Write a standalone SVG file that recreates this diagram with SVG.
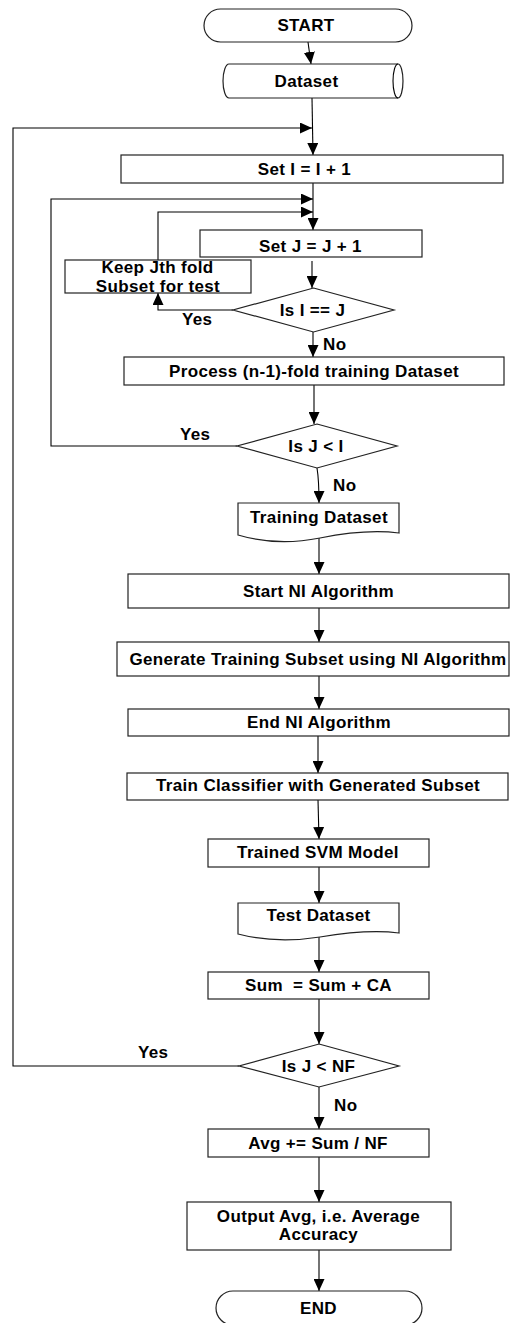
<svg xmlns="http://www.w3.org/2000/svg" width="512" height="1323" viewBox="0 0 512 1323">
  <defs>
    <marker id="arrow" markerUnits="userSpaceOnUse" markerWidth="12" markerHeight="11" refX="12" refY="5.5" orient="auto">
      <path d="M0,0 L12,5.5 L0,11 Z" fill="#000"/>
    </marker>
    <style>
      .shape { fill: #fff; stroke: #222; stroke-width: 1.2; }
      .conn { fill: none; stroke: #000; stroke-width: 1.1; }
      .arr { marker-end: url(#arrow); }
      text { font-family: "Liberation Sans", Arial, sans-serif; font-weight: bold; font-size: 17px; letter-spacing: 0.35px; fill: #000; text-anchor: middle; }
      .lbl { text-anchor: start; }
    </style>
  </defs>
  <rect width="512" height="1323" fill="#fff"/>

  <!-- connectors -->
  <g id="connectors">
    <path class="conn arr" d="M308,42 L311,64"/>
    <path class="conn arr" d="M312,98 L313,155"/>
    <!-- outer loop: Is J < NF (Yes) back to Set I -->
    <path class="conn arr" d="M239,1066 H13 V128 H312"/>
    <!-- middle loop: Is J < I (Yes) back to Set J -->
    <path class="conn arr" d="M237,446 H51 V199 H313"/>
    <!-- inner loop: Keep Jth fold back to Set J -->
    <path class="conn arr" d="M158,260 V212 H313"/>
    <path class="conn arr" d="M313,183 V230"/>
    <path class="conn arr" d="M312,261 V288"/>
    <path class="conn arr" d="M233,310 H158 V293"/>
    <path class="conn arr" d="M313,332 V357"/>
    <path class="conn arr" d="M314,385 V424"/>
    <path class="conn arr" d="M317,468 Q319,480 319,503"/>
    <path class="conn arr" d="M319,537 V574"/>
    <path class="conn arr" d="M319,608 V642"/>
    <path class="conn arr" d="M319,676 V709"/>
    <path class="conn arr" d="M318,736 V773"/>
    <path class="conn arr" d="M318,800 L319,839"/>
    <path class="conn arr" d="M319,867 V903"/>
    <path class="conn arr" d="M319,936 V972"/>
    <path class="conn arr" d="M319,999 V1044"/>
    <path class="conn arr" d="M319,1087 V1129"/>
    <path class="conn arr" d="M319,1157 V1202"/>
    <path class="conn arr" d="M319,1250 V1291"/>
  </g>

  <g id="start">
    <rect class="shape" x="204" y="9" width="208" height="33" rx="16.5"/>
    <text x="306" y="31">START</text>
  </g>

  <g id="dataset">
    <path class="shape" d="M229,64 H398 A5,17 0 0 1 398,98 H229 A6,17 0 0 1 229,64 Z"/>
    <path class="conn" d="M398,64 A5,17 0 0 0 398,98"/>
    <text x="306.5" y="87">Dataset</text>
  </g>

  <g id="set-i">
    <rect class="shape" x="121" y="155" width="382" height="28"/>
    <text x="304.5" y="174.5">Set I = I + 1</text>
  </g>

  <g id="set-j">
    <rect class="shape" x="200" y="230" width="222" height="27"/>
    <text x="310.5" y="252">Set J = J + 1</text>
  </g>

  <g id="keep-fold">
    <rect class="shape" x="65" y="260" width="186" height="33"/>
    <text x="157.5" y="273">Keep Jth fold</text>
    <text x="158" y="292">Subset for test</text>
  </g>

  <g id="is-i-eq-j">
    <polygon class="shape" points="313.5,288 394,310 313.5,332 233,310"/>
    <text x="312.5" y="316">Is I == J</text>
    <text class="lbl" x="182" y="325">Yes</text>
    <text class="lbl" x="323" y="350">No</text>
  </g>

  <g id="process">
    <rect class="shape" x="124" y="357" width="380" height="28"/>
    <text x="314" y="377">Process (n-1)-fold training Dataset</text>
  </g>

  <g id="is-j-lt-i">
    <polygon class="shape" points="317,424 397,446 317,468 237,446"/>
    <text x="316" y="451.5">Is J &lt; I</text>
    <text class="lbl" x="180" y="440">Yes</text>
    <text class="lbl" x="333" y="491">No</text>
  </g>

  <g id="training-dataset">
    <path class="shape" d="M238,503 H399 V533 C375,530 350,532 320,538 C295,543 265,543 238,535 Z"/>
    <text x="319" y="522.7">Training Dataset</text>
  </g>

  <g id="start-ni">
    <rect class="shape" x="128" y="574" width="381" height="34"/>
    <text x="318.5" y="597">Start NI Algorithm</text>
  </g>

  <g id="generate-subset">
    <rect class="shape" x="117" y="642" width="392" height="34"/>
    <text x="318" y="665">Generate Training Subset using NI Algorithm</text>
  </g>

  <g id="end-ni">
    <rect class="shape" x="128" y="709" width="381" height="27"/>
    <text x="319" y="728">End NI Algorithm</text>
  </g>

  <g id="train-classifier">
    <rect class="shape" x="127" y="773" width="381" height="27"/>
    <text x="318" y="791">Train Classifier with Generated Subset</text>
  </g>

  <g id="trained-svm">
    <rect class="shape" x="208" y="839" width="221" height="28"/>
    <text x="318" y="858">Trained SVM Model</text>
  </g>

  <g id="test-dataset">
    <path class="shape" d="M238,903 H399 V933 C375,930 350,932 320,937 C295,941 265,941 238,934 Z"/>
    <text x="318.5" y="921">Test Dataset</text>
  </g>

  <g id="sum">
    <rect class="shape" x="208" y="972" width="221" height="27"/>
    <text x="318.5" y="991" xml:space="preserve">Sum  = Sum + CA</text>
  </g>

  <g id="is-j-lt-nf">
    <polygon class="shape" points="319,1044 399,1066 319,1087 239,1066"/>
    <text x="318.5" y="1071.5">Is J &lt; NF</text>
    <text class="lbl" x="138" y="1058">Yes</text>
    <text class="lbl" x="334" y="1110.7">No</text>
  </g>

  <g id="avg">
    <rect class="shape" x="208" y="1129" width="221" height="28"/>
    <text x="318" y="1149">Avg += Sum / NF</text>
  </g>

  <g id="output">
    <rect class="shape" x="187" y="1202" width="264" height="48"/>
    <text x="318.5" y="1221.7">Output Avg, i.e. Average</text>
    <text x="318.5" y="1240">Accuracy</text>
  </g>

  <g id="end">
    <rect class="shape" x="216" y="1291" width="206" height="34" rx="17"/>
    <text x="318.5" y="1314">END</text>
  </g>
</svg>
